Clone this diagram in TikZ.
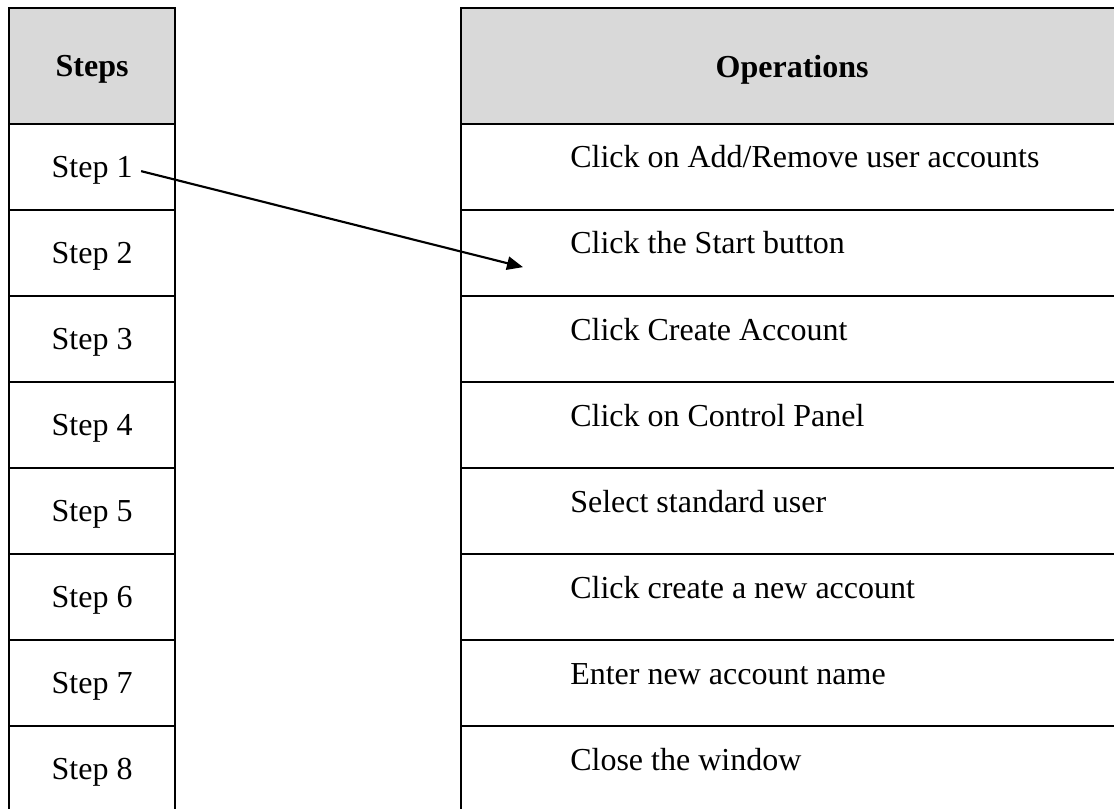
\documentclass[tikz,border=0pt]{standalone}
\usepackage{fontspec}
\setmainfont{Liberation Serif}
\usetikzlibrary{arrows.meta}
\definecolor{headgray}{HTML}{D9D9D9}
\newcommand{\cellfont}{\fontsize{24pt}{29pt}\selectfont}
\begin{document}
\begin{tikzpicture}[x=0.75pt,y=-0.75pt,
  cell/.style={draw, line width=1.7pt, inner sep=0pt, anchor=north west, text depth=0pt, font=\cellfont},
  lcell/.style={cell, minimum width=124.5pt, minimum height=64.5pt},
  rcell/.style={cell, minimum width=496.5pt, minimum height=64.5pt},
  lhead/.style={cell, fill=headgray, font=\cellfont\bfseries, minimum width=124.5pt, minimum height=87pt},
  rhead/.style={cell, fill=headgray, font=\cellfont\bfseries, minimum width=496.5pt, minimum height=87pt},
  optext/.style={anchor=base west, inner sep=0pt, font=\cellfont},
  conn/.style={line width=1.6pt, -{Triangle[length=12pt,width=10pt]}}
]
\useasboundingbox (0,0) rectangle (1114,809);
\clip (0,0) rectangle (1114,809);
\fill[white] (0,0) rectangle (1114,809);

% left column
\node[lhead] (hs) at (8,7) {Steps};
\node[lcell] (s1) at (8,123) {Step 1};
\node[lcell] (s2) at (8,209) {Step 2};
\node[lcell] (s3) at (8,295) {Step 3};
\node[lcell] (s4) at (8,381) {Step 4};
\node[lcell] (s5) at (8,467) {Step 5};
\node[lcell] (s6) at (8,553) {Step 6};
\node[lcell] (s7) at (8,639) {Step 7};
\node[lcell] (s8) at (8,725) {Step 8};

% right column
\node[rhead] (ho) at (460,7) {Operations};
\node[rcell] (o1) at (460,123) {};
\node[rcell] (o2) at (460,209) {};
\node[rcell] (o3) at (460,295) {};
\node[rcell] (o4) at (460,381) {};
\node[rcell] (o5) at (460,467) {};
\node[rcell] (o6) at (460,553) {};
\node[rcell] (o7) at (460,639) {};
\node[rcell] (o8) at (460,725) {};

\node[optext] (t1) at (570,168) {Click on Add/Remove user accounts};
\node[optext] (t2) at (570,254) {Click the Start button};
\node[optext] (t3) at (570,340) {Click Create Account};
\node[optext] (t4) at (570,426) {Click on Control Panel};
\node[optext] (t5) at (570,512) {Select standard user};
\node[optext] (t6) at (570,598) {Click create a new account};
\node[optext] (t7) at (570,684) {Enter new account name};
\node[optext] (t8) at (570,770) {Close the window};

% arrow
\coordinate (a1) at ([shift={(49,4)}]s1.center);
\coordinate (a2) at ([shift={(63,14)}]o2.west);
\draw[conn] (a1) -- (a2);
\end{tikzpicture}
\end{document}
